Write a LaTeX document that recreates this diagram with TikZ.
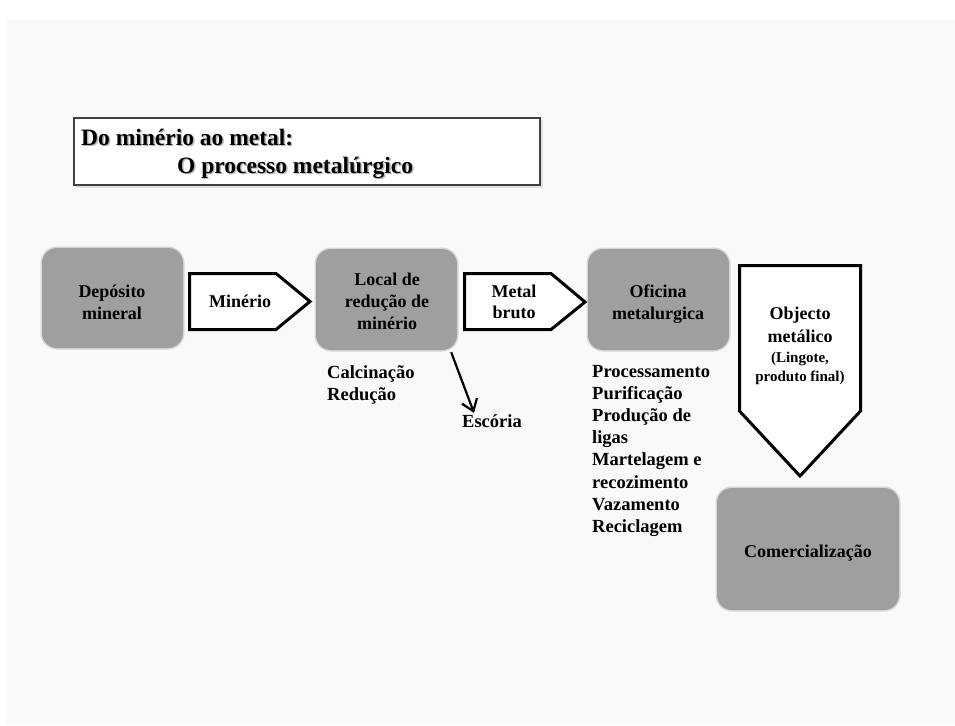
\documentclass[tikz,border=0pt]{standalone}
\usepackage{fontspec}
\setmainfont{Liberation Serif}
\usetikzlibrary{arrows.meta,calc}
\definecolor{bgc}{HTML}{F9F9F9}
\definecolor{boxc}{HTML}{9F9F9F}
\tikzset{
  procbox/.style={fill=boxc, rounded corners=15pt, inner sep=0pt,
    preaction={draw=black!16, line width=3pt, rounded corners=15pt}},
  lbl/.style={font=\bfseries\fontsize{18}{21}\selectfont, inner sep=0pt, anchor=base},
  lblw/.style={font=\bfseries\fontsize{18.5}{22}\selectfont, inner sep=0pt, anchor=base west},
  lsmall/.style={font=\bfseries\fontsize{15}{18}\selectfont, inner sep=0pt, anchor=base},
  ttl/.style={font=\bfseries\fontsize{23.5}{28}\selectfont, inner sep=0pt, anchor=base west},
  blockarrow/.style={draw=black, line width=3pt, fill=white, line join=miter, miter limit=10},
  slag/.style={-{Straight Barb[length=11pt,width=16pt,line width=2.2pt]}, line width=2.2pt},
}
\begin{document}
\begin{tikzpicture}[x=1pt,y=-1pt]
\fill[white] (0,0) rectangle (955,725);
\fill[bgc] (6,20) rectangle (955,725);
\useasboundingbox (0,0) rectangle (955,725);

% title box
\fill[black!12] (76,120) rectangle (543,188);
\node[draw=black!75, line width=2pt, fill=white, minimum width=466pt, minimum height=67pt,
      anchor=north west, inner sep=0pt] (title) at (73,117) {};
\node[ttl, text=black!28] (t1s) at (82.5,146.5) {Do minério ao metal:};
\node[ttl] (t1) at (81,145) {Do minério ao metal:};
\node[ttl, text=black!28] (t2s) at (178.5,174.5) {O processo metalúrgico};
\node[ttl] (t2) at (177,173) {O processo metalúrgico};

% process boxes
\node[procbox, minimum width=141pt, minimum height=100pt] (dep) at (112.5,298) {};
\node[procbox, minimum width=141pt, minimum height=101pt] (loc) at (386.5,299.5) {};
\node[procbox, minimum width=141pt, minimum height=101pt] (ofi) at (658.5,299.5) {};
\node[procbox, minimum width=182pt, minimum height=122pt] (com) at (808,549) {};

% block arrows
\draw[blockarrow] (189.5,273.5) -- (276,273.5) -- (310,301.5) -- (276,329.5) -- (189.5,329.5) -- cycle;
\draw[blockarrow] (464.5,273.5) -- (551,273.5) -- (585,302) -- (551,329.5) -- (464.5,329.5) -- cycle;
\draw[blockarrow] (739.5,265.5) -- (860.5,265.5) -- (860.5,411) -- (800,476) -- (739.5,411) -- cycle;

% box labels
\node[lbl] (dep1) at (112,297) {Depósito};
\node[lbl] (dep2) at (112,319) {mineral};
\node[lbl] (loc1) at (387,285) {Local de};
\node[lbl] (loc2) at (387,307) {redução de};
\node[lbl] (loc3) at (387,329) {minério};
\node[lbl] (ofi1) at (658,297) {Oficina};
\node[lbl] (ofi2) at (658,319) {metalurgica};
\node[lbl] (com1) at (808,557) {Comercialização};

% arrow labels
\node[lbl] (min1) at (240,307) {Minério};
\node[lbl] (met1) at (514,297) {Metal};
\node[lbl] (met2) at (514,318) {bruto};
\node[lbl] (obj1) at (800,319) {Objecto};
\node[lbl] (obj2) at (800,342) {metálico};
\node[lsmall] (obj3) at (800,362) {(Lingote,};
\node[lsmall] (obj4) at (800,381) {produto final)};

% side texts
\node[lblw] (cal) at (327,378) {Calcinação};
\node[lblw] (red) at (327,400) {Redução};
\node[lblw] (esc) at (462,427) {Escória};

\node[lblw] (p1) at (592,377) {Processamento};
\node[lblw] (p2) at (592,399.2) {Purificação};
\node[lblw] (p3) at (592,421.4) {Produção de};
\node[lblw] (p4) at (592,443.6) {ligas};
\node[lblw] (p5) at (592,465.8) {Martelagem e};
\node[lblw] (p6) at (592,488) {recozimento};
\node[lblw] (p7) at (592,510.2) {Vazamento};
\node[lblw] (p8) at (592,532.4) {Reciclagem};

% slag arrow
\draw[slag] ($(loc.south east)+(-6,2)$) -- ($(esc.north west)+(12,-1)$);
\end{tikzpicture}
\end{document}
